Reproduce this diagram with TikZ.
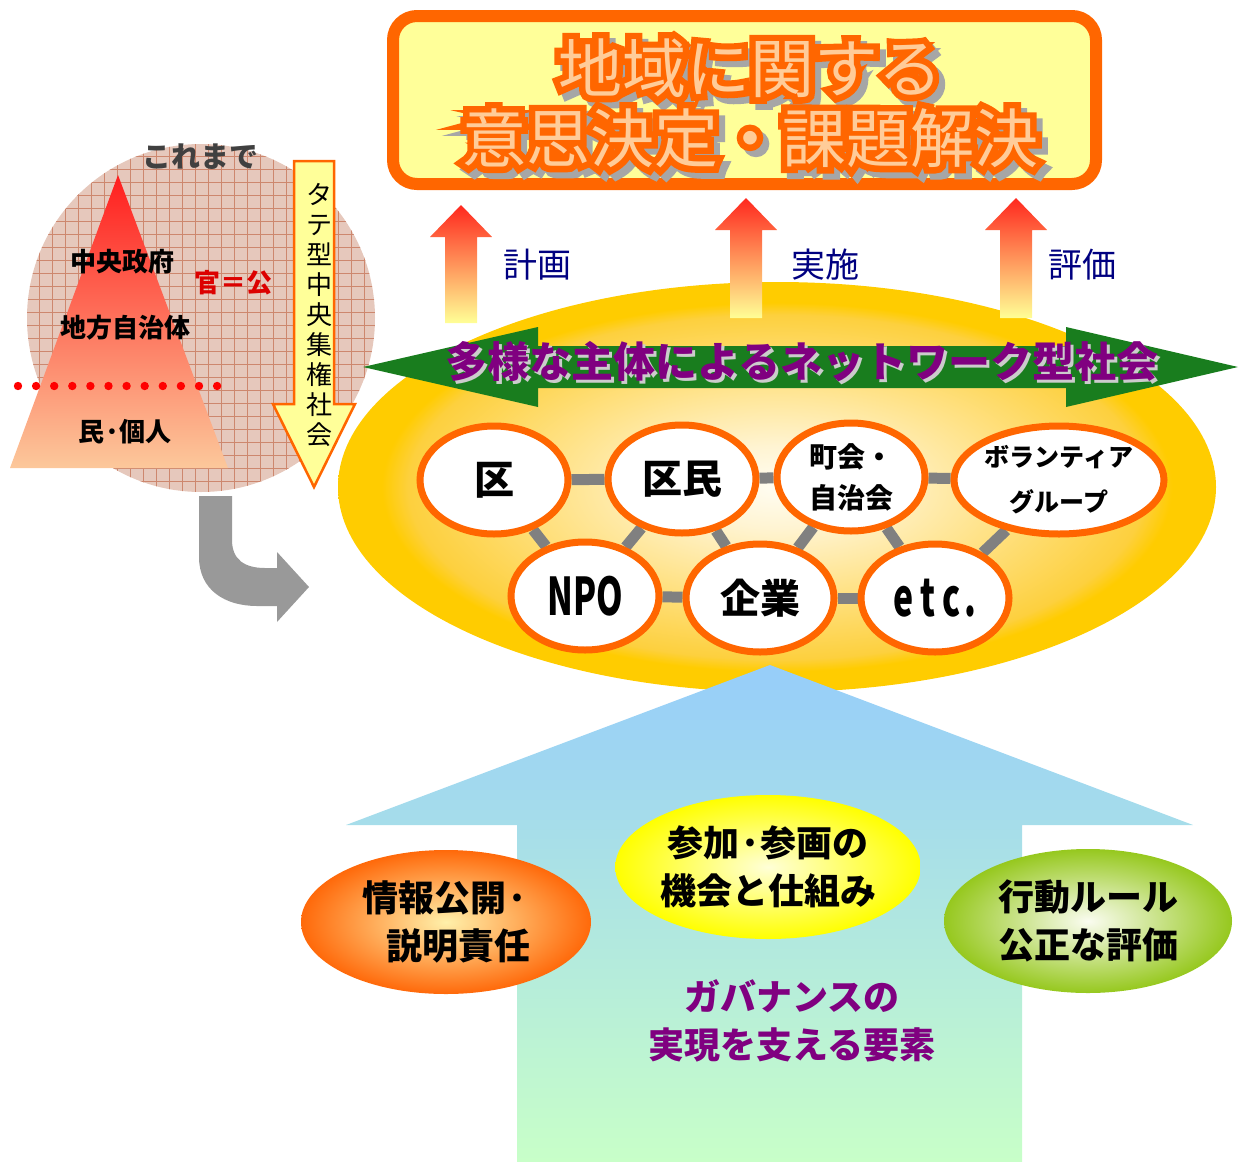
\documentclass[tikz,border=0pt]{standalone}
\usepackage{fontspec}
\usepackage{graphicx}
\usetikzlibrary{shapes.geometric}
\setmainfont{Noto Sans CJK JP}
\newfontfamily\outlinefont{Noto Sans CJK JP}[FakeBold=20]

\definecolor{hotorange}{RGB}{255,102,0}
\definecolor{titlefill}{RGB}{255,255,153}
\definecolor{titletext}{RGB}{255,204,153}
\definecolor{gridbg}{RGB}{230,200,188}
\definecolor{gridline}{RGB}{205,135,110}
\definecolor{tritop}{RGB}{255,30,30}
\definecolor{trimid}{RGB}{250,140,105}
\definecolor{tribot}{RGB}{252,200,155}
\definecolor{navytext}{RGB}{0,0,128}
\definecolor{netpurple}{RGB}{128,0,128}
\definecolor{netgreen}{RGB}{25,125,30}
\definecolor{netlight}{RGB}{205,250,205}
\definecolor{linkgray}{RGB}{128,128,128}
\definecolor{bendgray}{RGB}{153,153,153}
\definecolor{glowa}{RGB}{255,253,242}
\definecolor{glowb}{RGB}{255,244,210}
\definecolor{glowc}{RGB}{255,226,135}
\definecolor{glowd}{RGB}{253,208,62}
\definecolor{gold}{RGB}{255,204,0}
\definecolor{upblue}{RGB}{150,205,250}
\definecolor{upgreen}{RGB}{200,255,200}
\definecolor{upred}{RGB}{255,40,30}
\definecolor{upmid}{RGB}{255,170,105}
\definecolor{upyellow}{RGB}{255,255,150}
\definecolor{balorange}{RGB}{255,105,10}
\definecolor{balorangein}{RGB}{255,240,170}
\definecolor{balyellow}{RGB}{255,255,0}
\definecolor{balyellowin}{RGB}{255,255,215}
\definecolor{balgreen}{RGB}{150,200,30}
\definecolor{balgreenin}{RGB}{250,252,240}
\definecolor{darktext}{RGB}{64,64,64}
\definecolor{kanred}{RGB}{220,0,0}

\pgfdeclareradialshading{netglow}{\pgfpoint{0bp}{0bp}}{%
  color(0bp)=(glowa); color(5bp)=(glowb); color(13bp)=(glowc);
  color(21bp)=(glowd); color(22.5bp)=(gold); color(50bp)=(gold)}

\pgfdeclarelayer{back}
\pgfsetlayers{back,main}

\tikzset{
  titleword/.style={inner sep=0pt, font=\fontsize{64}{70}\selectfont},
  titlerim/.style={inner sep=0pt, font=\outlinefont\fontsize{64}{70}\selectfont},
  pyramidword/.style={font=\bfseries\fontsize{26}{30}\selectfont},
  upword/.style={text=navytext, font=\fontsize{34}{40}\selectfont},
  member/.style={ellipse, draw=hotorange, line width=7pt, fill=white,
    inner sep=0pt, minimum width=148pt, minimum height=108pt, align=center,
    font=\bfseries\fontsize{40}{44}\selectfont},
  tie/.style={draw=linkgray, line width=11pt},
  bubble/.style={ellipse, inner sep=0pt, minimum width=290pt, minimum height=144pt,
    align=center, font=\bfseries\fontsize{36}{48}\selectfont}
}

\begin{document}
\begin{tikzpicture}[x=1pt,y=-1pt]

\useasboundingbox (0,0) rectangle (1245,1162);

\def \titlex {750}
\def \shadowoff {6}

% title box
\draw [hotorange, line width=12pt, fill=titlefill, rounded corners=24pt] (393,16) rectangle (1096,184);
\node (titletopshadow) at (\titlex+\shadowoff,68+\shadowoff) [titlerim, text=gray!70] {地域に関する};
\node (titlebotshadow) at (\titlex+\shadowoff,138+\shadowoff) [titlerim, text=gray!70] {意思決定・課題解決};
\node (titletoprim) at (\titlex,68) [titlerim, text=hotorange] {地域に関する};
\node (titlebotrim) at (\titlex,138) [titlerim, text=hotorange] {意思決定・課題解決};
\node (titletop) at (\titlex,68) [titleword, text=titletext] {地域に関する};
\node (titlebot) at (\titlex,138) [titleword, text=titletext] {意思決定・課題解決};

% left: the old pyramid
\begin{scope}
\clip (201,318) circle [radius=174];
\fill [gridbg] (20,140) rectangle (380,500);
\draw [gridline, line width=0.4pt, step=13pt] (20,140) grid (380,500);
\end{scope}
\node (sofar) at (200,157) [text=darktext, font=\bfseries\fontsize{29}{32}\selectfont] {これまで};

\shade [top color=tritop, middle color=trimid, bottom color=tribot] (118,175) -- (228,468) -- (10,468) -- cycle;
\foreach \d in {0,...,11}
  \fill [red] (18+18.1*\d,386) circle [radius=4.2];

\node (central) at (122,262) [pyramidword] {中央政府};
\node (local) at (125,328) [pyramidword] {地方自治体};
\node (people) at (125,432) [pyramidword] {民·個人};
\node (official) at (233,283) [pyramidword, text=kanred] {官＝公};

\draw [hotorange, line width=2.5pt, fill=titlefill] (294,161) -- (334,161) -- (334,404) -- (355,404) -- (314,487) -- (273,404) -- (294,404) -- cycle;
\node (vertical) at (319,315) [align=center, font=\fontsize{26}{30}\selectfont] {タ\\テ\\型\\中\\央\\集\\権\\社\\会};

\fill [bendgray] (199,496) -- (199,557) .. controls (199,590) and (225,606) .. (257,606) -- (277,606) -- (277,622) -- (309,587) -- (277,552) -- (277,568) -- (265,568) .. controls (245,568) and (232,560) .. (232,540) -- (232,496) -- cycle;

% network
\begin{pgfonlayer}{back}
\shade [shading=netglow] (777,487) ellipse [x radius=439, y radius=205];
\end{pgfonlayer}

\foreach \ux/\utip/\ubot in {461/205/323, 746/198/318, 1016/198/318}
  \shade [top color=upred, middle color=upmid, bottom color=upyellow] (\ux,\utip) -- (\ux+31,\utip+32) -- (\ux+16,\utip+32) -- (\ux+16,\ubot) -- (\ux-16,\ubot) -- (\ux-16,\utip+32) -- (\ux-31,\utip+32) -- cycle;
\node (plan) at (537,265) [upword] {計画};
\node (action) at (825,265) [upword] {実施};
\node (review) at (1082,265) [upword] {評価};

\shade [left color=netgreen, middle color=netlight, right color=netgreen] (363,367) -- (538,327) -- (538,346) -- (1066,346) -- (1066,327) -- (1238,367) -- (1066,407) -- (1066,388) -- (538,388) -- (538,407) -- cycle;
\node (nettitleshadow) at (805,365) [text=gray!40, font=\bfseries\fontsize{42}{46}\selectfont] {多様な主体によるネットワーク型社会};
\node (nettitle) at (802,362) [text=netpurple, font=\bfseries\fontsize{42}{46}\selectfont] {多様な主体によるネットワーク型社会};

\node [member] (ku) at (494,480) {区};
\node [member] (kumin) at (682,479) {区民};
\node [member, font=\bfseries\fontsize{28}{41}\selectfont] (chokai) at (851,477) {町会・\\自治会};
\node [member, minimum width=198pt, font=\bfseries\fontsize{25}{45}\selectfont] (volunteer) at (1059,480) {ボランティア\\グループ};
\node [member] (npo) at (585,596) {\scalebox{0.65}[1]{\fontsize{52}{56}\selectfont NPO}};
\node [member] (kigyo) at (760,598) {企業};
\node [member] (etc) at (935,598) {\scalebox{0.65}[1]{\fontsize{52}{56}\selectfont e\hspace{10pt}t\hspace{10pt}c\hspace{6pt}.}};

\begin{pgfonlayer}{back}
\foreach \a/\b in {ku/kumin, kumin/chokai, chokai/volunteer, npo/kigyo, kigyo/etc, ku/npo, kumin/npo, kumin/kigyo, chokai/kigyo, chokai/etc, volunteer/etc}
  \draw [tie] (\a) -- (\b);
\end{pgfonlayer}

% governance
\shade [top color=upblue, bottom color=upgreen] (770,665) -- (1193,825) -- (1022,825) -- (1022,1162) -- (517,1162) -- (517,825) -- (346,825) -- cycle;

\node [bubble, align=left, inner color=balorangein, outer color=balorange] (disclose) at (446,922) {情報公開·\\\hspace*{24pt}説明責任};
\node [bubble, minimum width=304pt, inner color=balyellowin, outer color=balyellow] (join) at (768,867) {参加·参画の\\機会と仕組み};
\node [bubble, minimum width=288pt, inner color=balgreenin, outer color=balgreen] (rules) at (1088,921) {行動ルール\\公正な評価};

\node (governance) at (792,1021) [align=center, text=netpurple, font=\bfseries\fontsize{36}{48}\selectfont] {ガバナンスの\\実現を支える要素};

\end{tikzpicture}
\end{document}
